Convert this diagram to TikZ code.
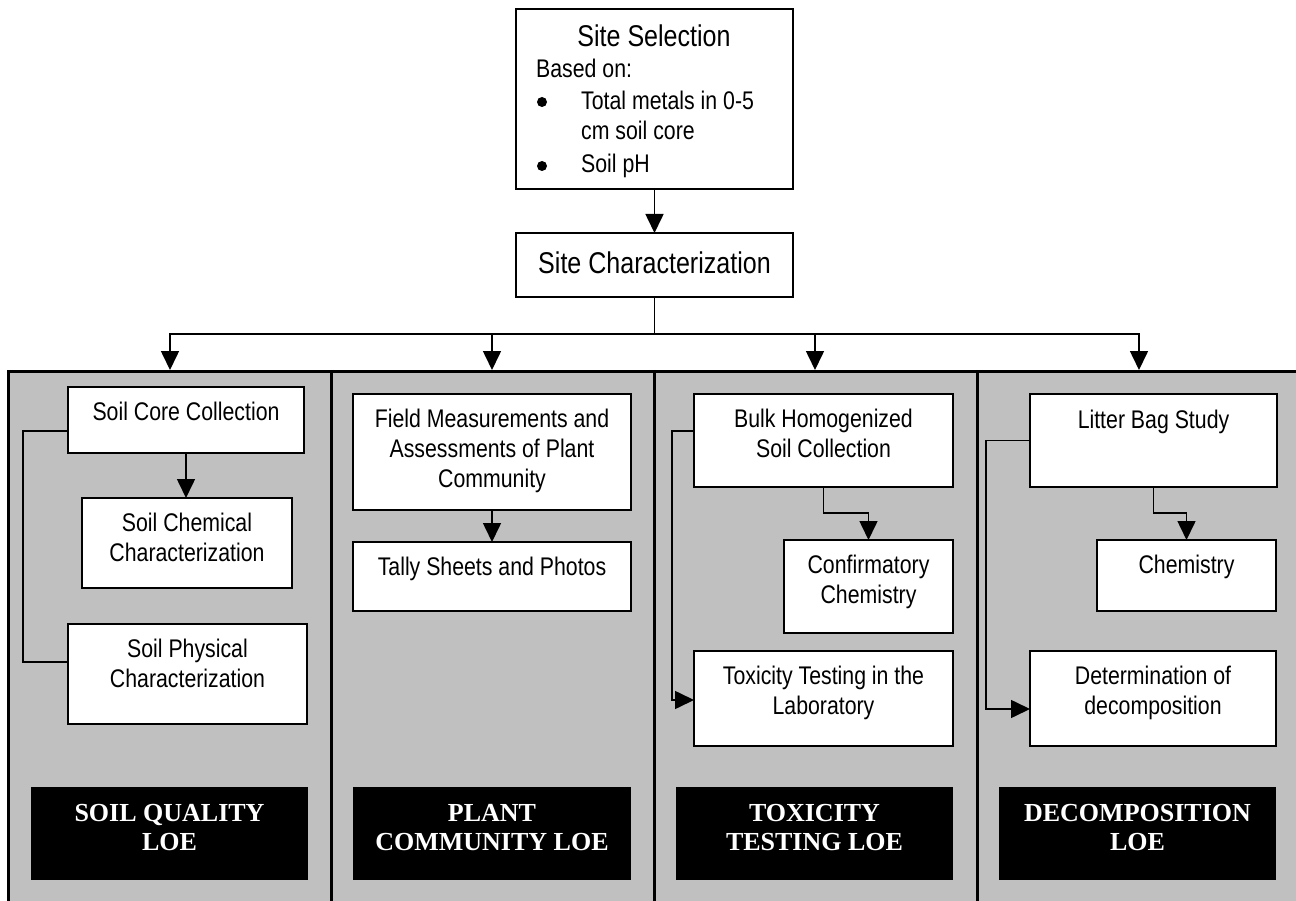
\documentclass[tikz,border=0pt]{standalone}
\usepackage{fontspec}
\setmainfont{Liberation Serif}
\newfontfamily\narrowsans[FakeStretch=0.835]{Liberation Sans}
\usetikzlibrary{arrows.meta}
\definecolor{panelgray}{RGB}{192,192,192}

\begin{document}
\begin{tikzpicture}[x=1pt,y=-1pt,
  box/.style={draw=black, line width=1.6pt, fill=white, inner sep=0pt, outer sep=0pt},
  loebox/.style={fill=black, inner sep=0pt, outer sep=0pt},
  body/.style={font=\narrowsans\fontsize{25.5}{30}\selectfont, align=center, inner sep=0pt, anchor=north},
  bodyline/.style={font=\narrowsans\fontsize{25.5}{30}\selectfont, inner sep=0pt, anchor=base west},
  title/.style={font=\narrowsans\fontsize{30}{36}\selectfont, inner sep=0pt, anchor=base},
  loetext/.style={font=\bfseries\fontsize{26}{29}\selectfont, text=white, align=center, inner sep=0pt, anchor=north},
  bulletdot/.style={circle, fill=black, inner sep=0pt, minimum size=10pt},
  link/.style={line width=1.6pt},
  arrowlink/.style={link, -{Triangle[length=19pt,width=18pt]}},
]
\useasboundingbox (0,0) rectangle (1296,901);

% grey panels of the four lines of evidence
\begin{scope}
  \clip (0,0) rectangle (1296,901);
  \fill[panelgray] (8,371) rectangle (1310,920);
  \draw[line width=3pt] (8,920) -- (8,371) -- (1310,371);
  \foreach \x in {331,654,977} \draw[line width=3pt] (\x,371) -- (\x,920);
\end{scope}

% site selection and characterization
\node[box, minimum width=277pt, minimum height=180pt] (sel) at (654.5,99) {};
\node[title] (selt) at (654,47) {Site Selection};
\node[bodyline] (based) at (536,78) {Based on:};
\node[bulletdot] (dot1) at (542,102) {};
\node[bodyline] (item1) at (581,110) {Total metals in 0-5};
\node[bodyline] (item1b) at (581,140) {cm soil core};
\node[bulletdot] (dot2) at (542,166) {};
\node[bodyline] (item2) at (581,173) {Soil pH};

\node[box, minimum width=277pt, minimum height=64pt] (char) at (654.5,265) {};
\node[title] (chart) at (654.5,274) {Site Characterization};

% soil quality
\node[box, minimum width=236pt, minimum height=66pt] (core) at (186,420) {};
\node[body] (coret) at (186,402) {Soil Core Collection};
\node[box, minimum width=210pt, minimum height=90pt] (chem) at (187,543) {};
\node[body] (chemt) at (187,513) {Soil Chemical\\Characterization};
\node[box, minimum width=239pt, minimum height=100pt] (phys) at (187.5,674) {};
\node[body] (physt) at (187.5,639) {Soil Physical\\Characterization};

% plant community
\node[box, minimum width=278pt, minimum height=116pt] (field) at (492,452) {};
\node[body] (fieldt) at (492,409) {Field Measurements and\\Assessments of Plant\\Community};
\node[box, minimum width=278pt, minimum height=69pt] (tally) at (492,576.5) {};
\node[body] (tallyt) at (492,557) {Tally Sheets and Photos};

% toxicity testing
\node[box, minimum width=259pt, minimum height=93pt] (bulk) at (823.5,440.5) {};
\node[body] (bulkt) at (823.5,409) {Bulk Homogenized\\Soil Collection};
\node[box, minimum width=169pt, minimum height=93pt] (conf) at (868.5,586.5) {};
\node[body] (conft) at (868.5,555) {Confirmatory\\Chemistry};
\node[box, minimum width=259pt, minimum height=95pt] (tox) at (823.5,698.5) {};
\node[body] (toxt) at (823.5,666) {Toxicity Testing in the\\Laboratory};

% decomposition
\node[box, minimum width=247pt, minimum height=93pt] (litter) at (1153.5,440.5) {};
\node[body] (littert) at (1153.5,410) {Litter Bag Study};
\node[box, minimum width=179pt, minimum height=71pt] (chemy) at (1186.5,575.5) {};
\node[body] (chemyt) at (1186.5,555) {Chemistry};
\node[box, minimum width=246pt, minimum height=95pt] (det) at (1153,698.5) {};
\node[body] (dett) at (1153,666) {Determination of\\decomposition};

% line of evidence labels
\node[loebox, minimum width=277pt, minimum height=93pt] (loe1) at (169.5,833.5) {};
\node[loetext] (loe1t) at (169.5,804) {SOIL QUALITY\\LOE};
\node[loebox, minimum width=278pt, minimum height=93pt] (loe2) at (492,833.5) {};
\node[loetext] (loe2t) at (492,804) {PLANT\\COMMUNITY LOE};
\node[loebox, minimum width=277pt, minimum height=93pt] (loe3) at (814.5,833.5) {};
\node[loetext] (loe3t) at (814.5,804) {TOXICITY\\TESTING LOE};
\node[loebox, minimum width=277pt, minimum height=93pt] (loe4) at (1137.5,833.5) {};
\node[loetext] (loe4t) at (1137.5,804) {DECOMPOSITION\\LOE};

% branching connectors
\coordinate (split) at (654.5,334);
\coordinate (in1) at (170,370);
\coordinate (in2) at (492,370);
\coordinate (in3) at (815,370);
\coordinate (in4) at (1139,370);
\draw[arrowlink] (sel.south) -- (char.north);
\draw[link] (char.south) -- (split);
\foreach \t in {in1,in2,in3,in4}
  \draw[arrowlink] (split) -| (\t);

% connectors inside the panels
\draw[arrowlink] (core.south) -- (core.south |- chem.north);
\draw[link] ([yshift=-11pt]core.west) -- ++(-45,0) |- ([yshift=12pt]phys.west);

\draw[arrowlink] (field.south) -- (tally.north);

\draw[arrowlink] (bulk.south) -- ++(0,26) -| (conf.north);
\draw[arrowlink] ([yshift=9.5pt]bulk.west) -- ++(-22,0) |- ([yshift=-1.5pt]tox.west);

\draw[arrowlink] (litter.south) -- ++(0,26) -| (chemy.north);
\draw[arrowlink] (litter.west) -- ++(-44,0) |- ([yshift=-10.5pt]det.west);
\end{tikzpicture}
\end{document}
